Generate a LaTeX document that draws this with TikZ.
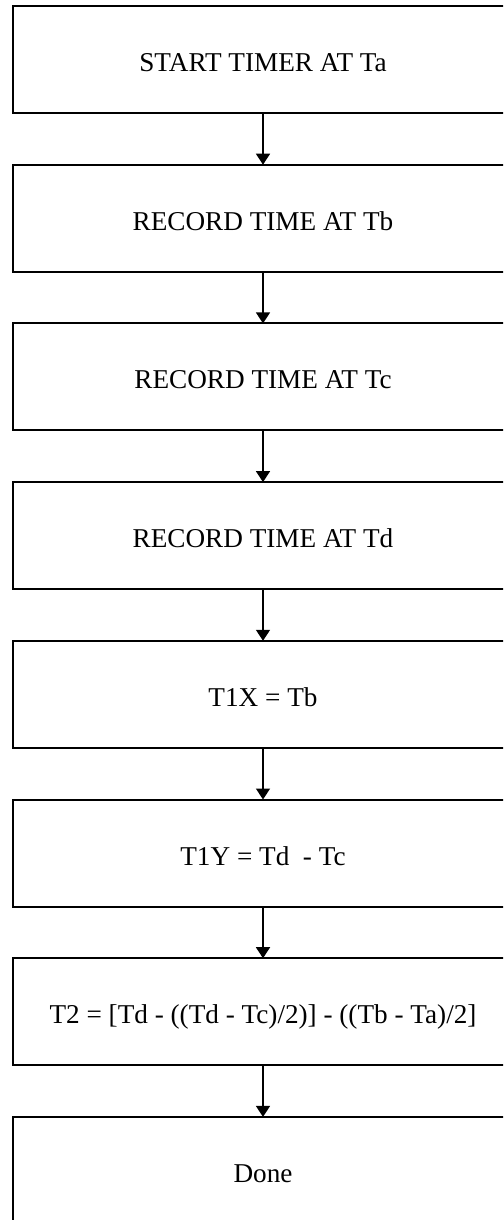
\documentclass[tikz,border=0pt]{standalone}
\usepackage{fontspec}
\setmainfont{Liberation Serif}
\usepackage{tikz}
\usetikzlibrary{arrows.meta, positioning}
\tikzset{
  block/.style={rectangle, draw, line width=1pt, minimum width=250.5pt,
    minimum height=53.5pt, inner sep=0pt, outer sep=0pt, text centered,
    text height=12pt, text depth=0pt,
    font=\fontsize{13.6}{15}\selectfont},
  arrow/.style={-{Triangle[length=5.5pt, width=7pt]}, line width=0.75pt},
}

\begin{document}
\begin{tikzpicture}[node distance=25.85pt]
  % page area, the boxes run past its right and bottom edges
  \clip (0,0) rectangle (251.5pt,-610pt);
  \node[block, anchor=north west] (start) at (6.25pt,-3pt) {START TIMER AT Ta};
  \node[block, below=of start] (recb) {RECORD TIME AT Tb};
  \node[block, below=of recb] (recc) {RECORD TIME AT Tc};
  \node[block, below=of recc] (recd) {RECORD TIME AT Td};
  \node[block, below=of recd] (tonex) {T1X = Tb};
  \node[block, below=of tonex] (toney) {T1Y = Td~ - Tc};
  \node[block, below=of toney] (ttwo) {T2 = [Td - ((Td - Tc)/2)] - ((Tb - Ta)/2]};
  \node[block, below=of ttwo] (done) {Done};
  \draw[arrow] (start) -- (recb);
  \draw[arrow] (recb) -- (recc);
  \draw[arrow] (recc) -- (recd);
  \draw[arrow] (recd) -- (tonex);
  \draw[arrow] (tonex) -- (toney);
  \draw[arrow] (toney) -- (ttwo);
  \draw[arrow] (ttwo) -- (done);
\end{tikzpicture}
\end{document}
